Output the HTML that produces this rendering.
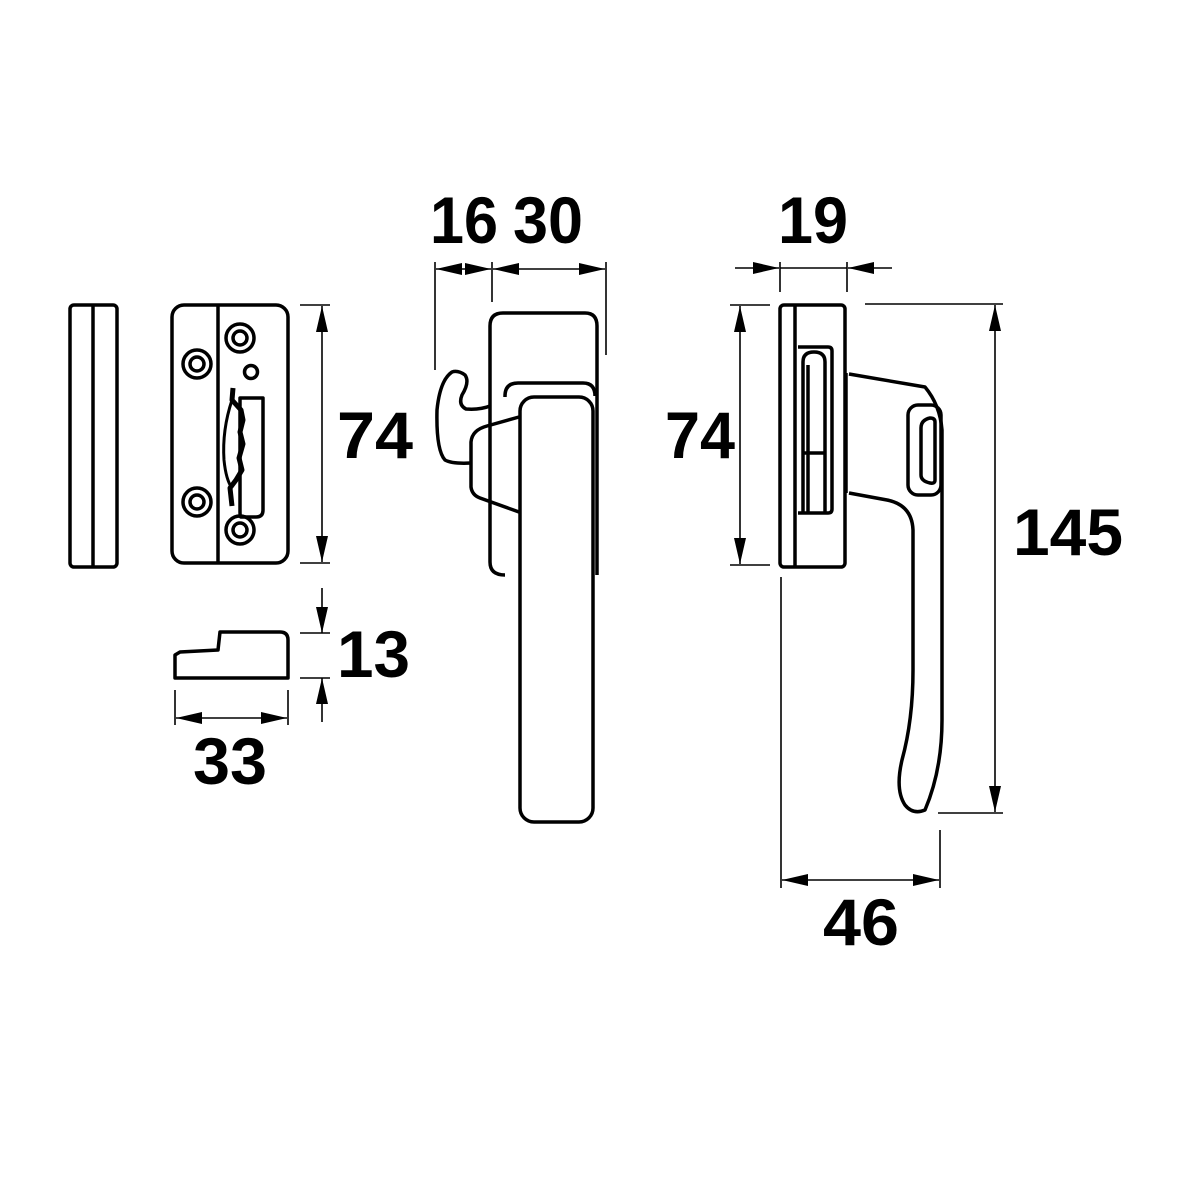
<!DOCTYPE html>
<html><head><style>html,body{margin:0;padding:0;background:#fff}svg{display:block}</style></head><body>
<svg width="1181" height="1181" viewBox="0 0 1181 1181" xmlns="http://www.w3.org/2000/svg">
<defs>
<marker id="a" viewBox="0 0 26 12" refX="26" refY="6" markerWidth="26" markerHeight="12" markerUnits="userSpaceOnUse" orient="auto-start-reverse"><path d="M0,0 L26,6 L0,12 z" fill="#000"/></marker>
</defs>
<g fill="none" stroke="#000" stroke-width="3.5" stroke-linejoin="round">
<rect x="70" y="305" width="47" height="262" rx="4"/>
<line x1="93" y1="306" x2="93" y2="566"/>
<rect x="172" y="305" width="116" height="258" rx="12"/>
<line x1="218" y1="306" x2="218" y2="562"/>
<circle cx="197" cy="364" r="14"/><circle cx="197" cy="364" r="7"/>
<circle cx="197" cy="502" r="14"/><circle cx="197" cy="502" r="7"/>
<circle cx="240" cy="338" r="14"/><circle cx="240" cy="338" r="7"/>
<circle cx="240" cy="530" r="14"/><circle cx="240" cy="530" r="7"/>
<circle cx="251" cy="372" r="6.5"/>
<path d="M240,398 H263 V510 Q263,517 256,517 H241 Q240,517 240,512 Z"/>
<path d="M233,388 L232,400 L241,410 L243,420 L240,432 L243,444 L239,458 L242,470 L236,480 L230,488 L232,506" stroke-width="5"/>
<path d="M232,400 Q222,430 224,460 Q226,480 232,488" stroke-width="3"/>
<path d="M175,655 L175,678 L288,678 L288,640 Q288,632 280,632 L220,632 L218,650 L180,652 Z"/>
<path d="M505,575 Q490,575 490,562 V326 Q490,313 503,313 H585 Q597,313 597,326 V575"/>
<path d="M505,397 V396 Q505,383 518,383 H583 Q595,383 595,396"/>
<rect x="520" y="397" width="73" height="425" rx="14"/>
<path d="M519,417 L487,426 Q472,430 471,442 L471,487 Q472,495 480,498 L519,512"/>
<path d="M490,406 Q480,410 466,409 Q458,405 462,395 Q470,382 465,375 Q458,370 452,372 Q440,380 437,410 Q436,450 445,460 Q452,464 471,463"/>
<rect x="780" y="305" width="65" height="262" rx="4"/>
<line x1="795" y1="306" x2="795" y2="566"/>
<path d="M798,347 H828 Q832,347 832,351 V509 Q832,513 828,513 H798"/>
<path d="M803,512 V362 Q803,352 814,352 Q825,352 825,362 V512"/>
<line x1="808" y1="365" x2="808" y2="512"/>
<line x1="803" y1="453" x2="825" y2="453"/>
<line x1="846" y1="373" x2="846" y2="493"/>
<path d="M849,374 L925,387 Q940,405 942,430 L942,720 Q942,770 925,810 Q913,815 905,805 Q895,790 902,760 Q913,720 913,670 L913,530 Q912,505 887,500 L849,493"/>
<rect x="908" y="405" width="33" height="90" rx="10"/>
<path d="M935,422 V480 Q935,484 930,483 Q921,481 921,475 V428 Q921,420 930,418 Q935,418 935,422 Z"/>
</g>
<g stroke="#000" stroke-width="1.6" fill="none">
<line x1="300" y1="305" x2="330" y2="305"/><line x1="300" y1="563" x2="330" y2="563"/>
<line x1="322" y1="306" x2="322" y2="562" marker-start="url(#a)" marker-end="url(#a)"/>
<line x1="300" y1="633" x2="330" y2="633"/><line x1="300" y1="678" x2="330" y2="678"/>
<line x1="322" y1="588" x2="322" y2="633" marker-end="url(#a)"/>
<line x1="322" y1="722" x2="322" y2="678" marker-end="url(#a)"/>
<line x1="175" y1="690" x2="175" y2="725"/><line x1="288" y1="690" x2="288" y2="725"/>
<line x1="176" y1="718" x2="287" y2="718" marker-start="url(#a)" marker-end="url(#a)"/>
<line x1="435" y1="262" x2="435" y2="370"/><line x1="492" y1="262" x2="492" y2="302"/><line x1="606" y1="262" x2="606" y2="355"/>
<line x1="436" y1="269" x2="491" y2="269" marker-start="url(#a)" marker-end="url(#a)"/>
<line x1="493" y1="269" x2="605" y2="269" marker-start="url(#a)" marker-end="url(#a)"/>
<line x1="780" y1="262" x2="780" y2="292"/><line x1="847" y1="262" x2="847" y2="292"/>
<line x1="735" y1="268" x2="779" y2="268" marker-end="url(#a)"/>
<line x1="780" y1="268" x2="847" y2="268"/>
<line x1="892" y1="268" x2="848" y2="268" marker-end="url(#a)"/>
<line x1="730" y1="305" x2="770" y2="305"/><line x1="730" y1="565" x2="770" y2="565"/>
<line x1="740" y1="306" x2="740" y2="564" marker-start="url(#a)" marker-end="url(#a)"/>
<line x1="865" y1="304" x2="1003" y2="304"/><line x1="938" y1="813" x2="1003" y2="813"/>
<line x1="995" y1="305" x2="995" y2="812" marker-start="url(#a)" marker-end="url(#a)"/>
<line x1="781" y1="577" x2="781" y2="888"/><line x1="940" y1="830" x2="940" y2="888"/>
<line x1="782" y1="880" x2="939" y2="880" marker-start="url(#a)" marker-end="url(#a)"/>
</g>
<g font-family="Liberation Sans, sans-serif" font-weight="bold" font-size="66" fill="#000">
<text x="430" y="243" textLength="68" lengthAdjust="spacingAndGlyphs">16</text>
<text x="513" y="243" textLength="70" lengthAdjust="spacingAndGlyphs">30</text>
<text x="778" y="243" textLength="70" lengthAdjust="spacingAndGlyphs">19</text>
<text x="337" y="458" textLength="76" lengthAdjust="spacingAndGlyphs">74</text>
<text x="665" y="458" textLength="70" lengthAdjust="spacingAndGlyphs">74</text>
<text x="337" y="677" textLength="73" lengthAdjust="spacingAndGlyphs">13</text>
<text x="193" y="784" textLength="74" lengthAdjust="spacingAndGlyphs">33</text>
<text x="1013" y="555" textLength="110" lengthAdjust="spacingAndGlyphs">145</text>
<text x="823" y="945" textLength="76" lengthAdjust="spacingAndGlyphs">46</text>
</g>
</svg>
</body></html>
